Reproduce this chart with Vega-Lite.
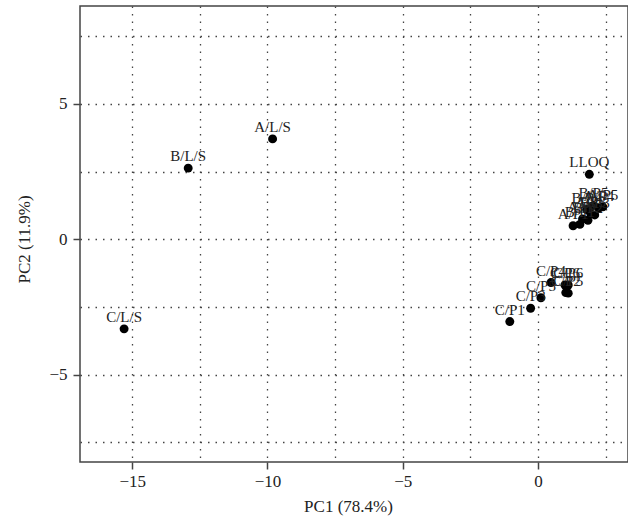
{
  "$schema": "https://vega.github.io/schema/vega-lite/v6.json",
  "width": 548,
  "height": 456,
  "autosize": {"type": "none"},
  "padding": {"left": 80, "top": 6, "right": 0, "bottom": 65},
  "background": "white",
  "config": {
    "view": {"stroke": "#444", "strokeWidth": 1.5},
    "font": "Liberation Serif",
    "axis": {
      "labelFont": "Liberation Serif",
      "titleFont": "Liberation Serif",
      "labelFontSize": 17,
      "titleFontSize": 17,
      "titleFontWeight": "normal",
      "labelColor": "#222",
      "titleColor": "#222",
      "tickColor": "#444",
      "tickWidth": 1.5,
      "tickSize": 7,
      "domain": false,
      "gridColor": "#444",
      "gridDash": [1.5, 6],
      "gridWidth": 1.3,
      "gridOpacity": 1
    }
  },
  "data": {
    "values": [
      {"name": "C/L/S", "pc1": -15.3, "pc2": -3.31},
      {"name": "B/L/S", "pc1": -12.93, "pc2": 2.63},
      {"name": "A/L/S", "pc1": -9.81, "pc2": 3.71},
      {"name": "LLOQ", "pc1": 1.9, "pc2": 2.4},
      {"name": "C/P1", "pc1": -1.04, "pc2": -3.04},
      {"name": "C/P3", "pc1": -0.27, "pc2": -2.55},
      {"name": "C/P5", "pc1": 0.11, "pc2": -2.16},
      {"name": "C/P4", "pc1": 0.48, "pc2": -1.6},
      {"name": "C/P6", "pc1": 1.0, "pc2": -1.69},
      {"name": "C/P6", "pc1": 1.12, "pc2": -1.69},
      {"name": "C/P2", "pc1": 1.03, "pc2": -1.97},
      {"name": "C/P5", "pc1": 1.12, "pc2": -1.99},
      {"name": "A/P1", "pc1": 1.3, "pc2": 0.5},
      {"name": "B/P1", "pc1": 1.55, "pc2": 0.55},
      {"name": "A/P2", "pc1": 1.65, "pc2": 0.75},
      {"name": "B/P2", "pc1": 1.85, "pc2": 0.7},
      {"name": "A/P3", "pc1": 1.95, "pc2": 0.95},
      {"name": "B/P3", "pc1": 2.1, "pc2": 0.9},
      {"name": "A/P4", "pc1": 2.25, "pc2": 1.15},
      {"name": "B/P4", "pc1": 1.8, "pc2": 1.1},
      {"name": "A/P5", "pc1": 2.4, "pc2": 1.2},
      {"name": "B/P5", "pc1": 2.05, "pc2": 1.25}
    ]
  },
  "encoding": {
    "x": {
      "field": "pc1",
      "type": "quantitative",
      "scale": {"domain": [-16.93, 3.33], "nice": false, "zero": false},
      "axis": {
        "title": "PC1 (78.4%)",
        "values": [-15, -12.5, -10, -7.5, -5, -2.5, 0, 2.5],
        "labelExpr": "datum.value % 5 === 0 ? datum.label : ''",
        "tickOpacity": {"condition": {"test": "datum.value % 5 !== 0", "value": 0}, "value": 1},
        "labelPadding": 4,
        "titleX": 268,
        "titleY": 44,
        "titleBaseline": "middle"
      }
    },
    "y": {
      "field": "pc2",
      "type": "quantitative",
      "scale": {"domain": [-8.23, 8.62], "nice": false, "zero": false},
      "axis": {
        "title": "PC2 (11.9%)",
        "values": [-7.5, -5, -2.5, 0, 2.5, 5, 7.5],
        "labelExpr": "datum.value % 5 === 0 ? datum.label : ''",
        "tickOpacity": {"condition": {"test": "datum.value % 5 !== 0", "value": 0}, "value": 1},
        "labelPadding": 6,
        "titleX": -56,
        "titleY": 233,
        "titleBaseline": "middle",
        "titleAlign": "center"
      }
    }
  },
  "layer": [
    {
      "mark": {"type": "point", "filled": true, "opacity": 1, "color": "black", "size": 80, "shape": "circle"}
    },
    {
      "mark": {"type": "text", "font": "Liberation Serif", "fontSize": 15, "baseline": "bottom", "dy": -4, "color": "#222"},
      "encoding": {"text": {"field": "name"}}
    }
  ]
}
